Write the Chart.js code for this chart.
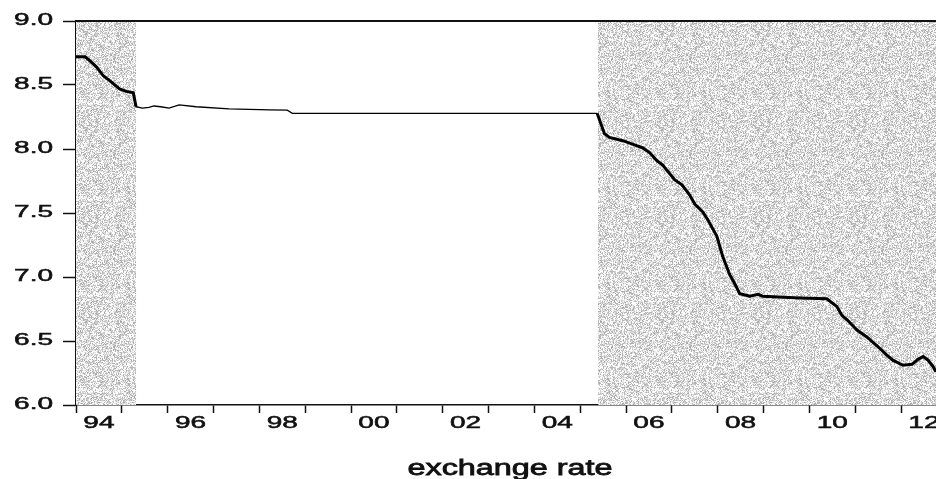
<!DOCTYPE html>
<html>
<head>
<meta charset="utf-8">
<script src="https://cdn.jsdelivr.net/npm/chart.js@4/dist/chart.umd.min.js"></script>
<style>
  body { margin: 0; background: #fff; }
  canvas { display: block; }
</style>
</head>
<body>
<canvas id="rateChart" width="936" height="479"></canvas>
<script>
// yuan per dollar (x = decimal year)
var years = [
  1994.00, 1994.20, 1994.30, 1994.45, 1994.60, 1994.75, 1994.95, 1995.10, 1995.25, 1995.31,
  1995.45, 1995.59, 1995.70, 1995.85, 1996.03, 1996.25, 1996.62, 1997.34, 1998.22, 1998.61,
  1998.72, 2005.37, 2005.53, 2005.64, 2005.93, 2006.23, 2006.36, 2006.52, 2006.67, 2006.80,
  2007.06, 2007.22, 2007.39, 2007.50, 2007.67, 2007.78, 2007.98, 2008.11, 2008.26, 2008.37,
  2008.48, 2008.70, 2008.88, 2008.98, 2009.79, 2010.38, 2010.60, 2010.71, 2010.84, 2011.04,
  2011.26, 2011.50, 2011.69, 2011.82, 2012.04, 2012.24, 2012.37, 2012.48, 2012.59, 2012.70,
  2012.76
];
var rates = [
  8.72, 8.72, 8.69, 8.64, 8.57, 8.53, 8.47, 8.45, 8.44, 8.33,
  8.32, 8.326, 8.336, 8.33, 8.32, 8.344, 8.33, 8.313, 8.305, 8.303,
  8.279, 8.279, 8.12, 8.09, 8.065, 8.026, 8.01, 7.97, 7.91, 7.875,
  7.76, 7.72, 7.64, 7.57, 7.51, 7.45, 7.32, 7.16, 7.02, 6.95,
  6.87, 6.85, 6.865, 6.85, 6.836, 6.83, 6.77, 6.70, 6.66, 6.586,
  6.53, 6.455, 6.39, 6.35, 6.31, 6.318, 6.357, 6.378, 6.35, 6.30,
  6.26
];

// shaded periods
var shadeFrom = [1994.0, 2005.39];
var shadeTo = [1995.31, 2012.77];

// axis ticks and labels
var yearTicks = [1994, 1995, 1996, 1997, 1998, 1999, 2000, 2001, 2002, 2003,
  2004, 2005, 2006, 2007, 2008, 2009, 2010, 2011, 2012];
var labelYears = [1994, 1996, 1998, 2000, 2002, 2004, 2006, 2008, 2010, 2012];
var xTickLabels = ["94", "96", "98", "00", "02", "04", "06", "08", "10", "12"];
var yTickLabels = ["6.0", "6.5", "7.0", "7.5", "8.0", "8.5", "9.0"];
var chartTitle = "exchange rate";

var FONT = '"Liberation Sans", Arial, sans-serif';

function makeNoisePattern(ctx) {
  var size = 96;
  var c = document.createElement("canvas");
  c.width = size;
  c.height = size;
  var g = c.getContext("2d");
  var img = g.createImageData(size, size);
  for (var j = 0; j < size; j++) {
    for (var i = 0; i < size; i++) {
      var h = Math.sin(i * 12.9898 + j * 78.233) * 43758.5453;
      h = h - Math.floor(h);
      var v = h < 0.25 ? 255 : 135 + Math.floor(h * 120);
      var k = (j * size + i) * 4;
      img.data[k] = v;
      img.data[k + 1] = v;
      img.data[k + 2] = v;
      img.data[k + 3] = 255;
    }
  }
  g.putImageData(img, 0, 0);
  return ctx.createPattern(c, "repeat");
}

var shadePlugin = {
  id: "shade",
  beforeDatasetsDraw: function (chart) {
    var ctx = chart.ctx;
    var area = chart.chartArea;
    var x = chart.scales.x;
    if (!chart.$noise) chart.$noise = makeNoisePattern(ctx);
    ctx.save();
    ctx.fillStyle = chart.$noise;
    for (var i = 0; i < shadeFrom.length; i++) {
      var a = Math.max(x.getPixelForValue(shadeFrom[i]), area.left);
      var b = Math.min(x.getPixelForValue(shadeTo[i]), area.right);
      ctx.fillRect(a, area.top, b - a, area.bottom - area.top);
    }
    ctx.restore();
  }
};

// stretched text, the way the scanned figure looks
function wideText(ctx, text, x, y, sx, align) {
  ctx.save();
  ctx.translate(x, y);
  ctx.scale(sx, 1);
  ctx.textAlign = align;
  ctx.fillText(text, 0, 0);
  ctx.strokeText(text, 0, 0);
  ctx.restore();
}

var textPlugin = {
  id: "texts",
  afterDraw: function (chart) {
    var ctx = chart.ctx;
    var area = chart.chartArea;
    var xs = chart.scales.x;
    var ys = chart.scales.y;
    ctx.save();
    // top frame line
    ctx.strokeStyle = "#111";
    ctx.lineWidth = 2;
    ctx.beginPath();
    ctx.moveTo(area.left, area.top);
    ctx.lineTo(area.right, area.top);
    ctx.stroke();

    ctx.fillStyle = "#111";
    ctx.lineWidth = 0.5;
    ctx.font = "16px " + FONT;
    ctx.textBaseline = "middle";
    for (var i = 0; i < yTickLabels.length; i++) {
      var yv = parseFloat(yTickLabels[i]);
      wideText(ctx, yTickLabels[i], 53, ys.getPixelForValue(yv), 1.75, "right");
    }
    for (var j = 0; j < xTickLabels.length; j++) {
      var px = xs.getPixelForValue(labelYears[j] + 0.5);
      wideText(ctx, xTickLabels[j], px, 424, 1.75, "center");
    }

    ctx.font = "22px " + FONT;
    ctx.lineWidth = 0.8;
    ctx.textBaseline = "alphabetic";
    var w = ctx.measureText(chartTitle).width;
    wideText(ctx, chartTitle, 510, 475, 205 / w, "center");
    ctx.restore();
  }
};

var ctx = document.getElementById("rateChart").getContext("2d");

var chart = new Chart(ctx, {
  type: "line",
  data: {
    datasets: [
      {
        label: "exchange rate",
        data: years.map(function (yr, i) {
          return { x: yr, y: rates[i] };
        }),
        borderColor: "#000",
        borderWidth: 3,
        pointRadius: 0,
        tension: 0,
        fill: false,
        segment: {
          borderWidth: function (c) {
            var a = c.p0.parsed.x;
            var b = c.p1.parsed.x;
            return a >= shadeTo[0] && b <= shadeFrom[1] ? 1.3 : 3;
          }
        }
      }
    ]
  },
  options: {
    responsive: false,
    animation: false,
    layout: { padding: { top: 21, right: 0, bottom: 0, left: 0 } },
    plugins: {
      legend: { display: false },
      tooltip: { enabled: false },
      title: { display: false }
    },
    scales: {
      x: {
        type: "linear",
        min: 1994,
        max: 2012.763,
        afterBuildTicks: function (scale) {
          scale.ticks = yearTicks.map(function (v) {
            return { value: v };
          });
        },
        afterFit: function (scale) {
          scale.height = 74;
        },
        ticks: { display: false },
        grid: {
          drawOnChartArea: false,
          drawTicks: true,
          tickLength: 8,
          tickWidth: 1.5,
          tickColor: "#111"
        },
        border: { display: true, color: "#111", width: 1.5 }
      },
      y: {
        type: "linear",
        min: 6,
        max: 9,
        ticks: { display: false, stepSize: 0.5 },
        afterFit: function (scale) {
          scale.width = 76;
        },
        grid: {
          drawOnChartArea: false,
          drawTicks: true,
          tickLength: 13,
          tickWidth: 1.5,
          tickColor: "#111"
        },
        border: { display: true, color: "#111", width: 2 }
      }
    }
  },
  plugins: [shadePlugin, textPlugin]
});
</script>
</body>
</html>
